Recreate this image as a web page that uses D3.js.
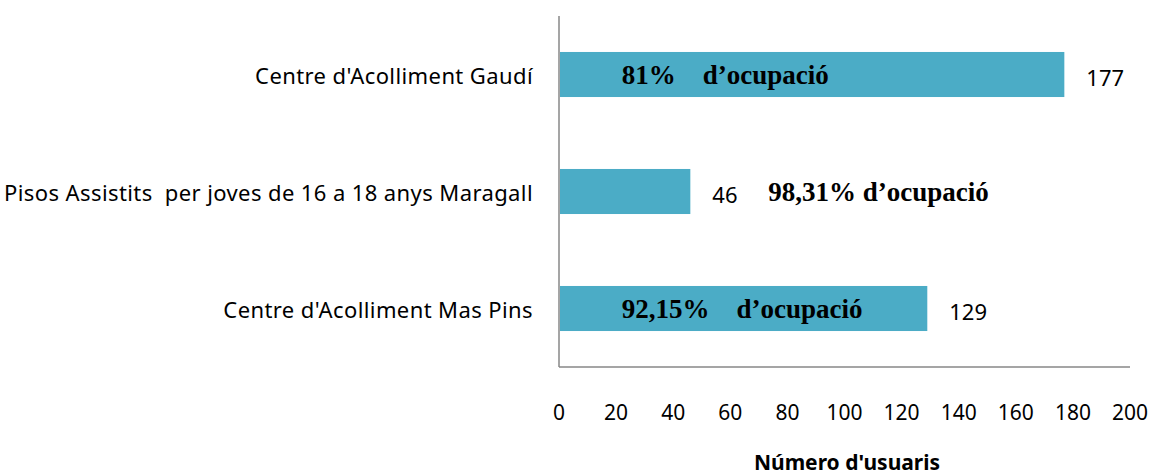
<!DOCTYPE html>
<html lang="en">
<head>
    <meta charset="UTF-8">
    <title>Usuaris centres</title>
    <script src="https://cdn.jsdelivr.net/npm/d3@7"></script>
    <style>
        body { margin: 0; background: #fff; }
        text { white-space: pre; }
    </style>
</head>
<body>
    <script>

		// data
		var centres = ["Centre d'Acolliment Gaudí", "Pisos Assistits  per joves de 16 a 18 anys Maragall", "Centre d'Acolliment Mas Pins"];
		var usuaris = [177, 46, 129];
		var ocupacio = ["81%    d\u2019ocupació", "98,31% d\u2019ocupació", "92,15%    d\u2019ocupació"];
		var xTicks = [0, 20, 40, 60, 80, 100, 120, 140, 160, 180, 200];

		var width = 1159, height = 475;
		var plotLeft = 559, plotRight = 1130, plotTop = 16, plotBottom = 367;
		var sansFont = "'Noto Sans', sans-serif";

		var svg = d3.select("body").append("svg")
					.attr("width", width)
					.attr("height", height);

		var x = d3.scaleLinear().domain([0, 200]).range([plotLeft, plotRight]);
		var y = d3.scaleBand().domain(centres).range([plotTop, plotBottom]).paddingInner(0.615).paddingOuter(0.3075);

		// axis lines
		svg.append("line")
			.attr("x1", plotLeft).attr("x2", plotLeft)
			.attr("y1", plotTop).attr("y2", plotBottom)
			.attr("stroke", "#878787").attr("stroke-width", 1.5);
		svg.append("line")
			.attr("x1", plotLeft).attr("x2", plotRight)
			.attr("y1", plotBottom).attr("y2", plotBottom)
			.attr("stroke", "#878787").attr("stroke-width", 1.5);

		// bars
		svg.selectAll("rect.bar").data(usuaris).enter().append("rect")
			.attr("class", "bar")
			.attr("x", x(0) + 1)
			.attr("y", function(d, i) { return y(centres[i]); })
			.attr("width", function(d) { return x(d) - x(0) - 1; })
			.attr("height", y.bandwidth())
			.attr("fill", "#4BACC6");

		// category labels
		svg.selectAll("text.cat").data(centres).enter().append("text")
			.attr("class", "cat")
			.attr("x", plotLeft - 26)
			.attr("y", function(d) { return y(d) + y.bandwidth() / 2 + 2; })
			.attr("dy", "0.35em")
			.attr("text-anchor", "end")
			.attr("font-family", sansFont)
			.attr("font-size", 22)
			.attr("letter-spacing", 0.4)
			.attr("fill", "#000")
			.text(function(d) { return d; });

		// value labels
		svg.selectAll("text.val").data(usuaris).enter().append("text")
			.attr("class", "val")
			.attr("x", function(d) { return x(d) + 22; })
			.attr("y", function(d, i) { return y(centres[i]) + y.bandwidth() / 2 + 4; })
			.attr("dy", "0.35em")
			.attr("font-family", sansFont)
			.attr("font-size", 22)
			.text(function(d) { return d; });

		// occupation notes: inside bar if room, otherwise after the value
		svg.selectAll("text.occ").data(ocupacio).enter().append("text")
			.attr("class", "occ")
			.attr("x", function(d, i) { return usuaris[i] > 100 ? x(22) : x(usuaris[i]) + 78; })
			.attr("y", function(d, i) { return y(centres[i]) + y.bandwidth() / 2; })
			.attr("dy", "0.35em")
			.attr("font-family", "'Liberation Serif', 'Times New Roman', serif")
			.attr("font-weight", "bold")
			.attr("font-size", 27)
			.text(function(d) { return d; });

		// tick labels
		svg.selectAll("text.tick").data(xTicks).enter().append("text")
			.attr("class", "tick")
			.attr("x", function(d) { return x(d); })
			.attr("y", 413)
			.attr("dy", "0.35em")
			.attr("text-anchor", "middle")
			.attr("font-family", sansFont)
			.attr("font-size", 21)
			.text(function(d) { return d; });

		// axis title
		svg.append("text")
			.attr("x", 847)
			.attr("y", 463)
			.attr("dy", "0.35em")
			.attr("text-anchor", "middle")
			.attr("font-family", sansFont)
			.attr("font-weight", "bold")
			.attr("font-size", 21)
			.text("Número d'usuaris");

    </script>
</body>
</html>
